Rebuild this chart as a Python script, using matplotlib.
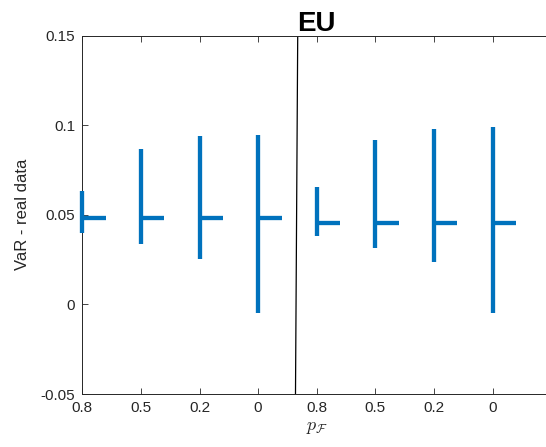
import matplotlib
matplotlib.use("Agg")
import matplotlib.pyplot as plt

plt.rcParams["font.family"] = ["Liberation Sans", "DejaVu Sans"]
plt.rcParams["mathtext.fontset"] = "cm"

# VaR intervals per p_F setting (two groups of four)
positions = [1, 2, 3, 4, 5, 6, 7, 8]
tick_labels = ["0.8", "0.5", "0.2", "0", "0.8", "0.5", "0.2", "0"]
low = [0.0396, 0.0338, 0.0254, -0.0047, 0.0379, 0.0316, 0.0236, -0.0050]
high = [0.0631, 0.0865, 0.0938, 0.0945, 0.0655, 0.0919, 0.0980, 0.0989]
mid = [0.0482, 0.0482, 0.0482, 0.0482, 0.0455, 0.0455, 0.0455, 0.0455]

# separator between the two groups (slightly slanted in the original)
sep_x = [4.638, 4.676]
sep_y = [-0.05, 0.15]

blue = "#0072BD"
dark = "#262626"

fig = plt.figure(figsize=(5.46, 4.47), dpi=100)
ax = fig.add_axes([82.3 / 546, 53 / 447, 468.8 / 546, 358.5 / 447])

for x, lo, hi, m in zip(positions, low, high, mid):
    ax.plot([x, x], [lo, hi], color=blue, lw=3.1, solid_capstyle="butt",
            clip_on=False, zorder=3)
    ax.plot([x, x + 0.4], [m, m], color=blue, lw=3.1, solid_capstyle="butt",
            clip_on=False, zorder=3)

ax.plot(sep_x, sep_y, color="black", lw=0.9)

ax.set_xlim(1, 9)
ax.set_ylim(-0.05, 0.15)
ax.set_xticks(positions)
ax.set_xticklabels(tick_labels)
ax.set_yticks([-0.05, 0, 0.05, 0.1, 0.15])
ax.set_yticklabels(["-0.05", "0", "0.05", "0.1", "0.15"])

ax.tick_params(direction="in", length=4.5, width=0.6, colors=dark,
               labelsize=11, top=True, right=False, pad=5)
for side in ["left", "bottom", "top", "right"]:
    ax.spines[side].set_color(dark)
    ax.spines[side].set_linewidth(0.7)

ax.set_title("EU", fontsize=20, fontweight="bold", pad=3)
ax.set_ylabel("VaR - real data", fontsize=12, color=dark, labelpad=8)
ax.set_xlabel(r"$p_{\mathcal{F}}$", fontsize=13, color=dark, labelpad=3)

fig.savefig("out.png", dpi=100)
